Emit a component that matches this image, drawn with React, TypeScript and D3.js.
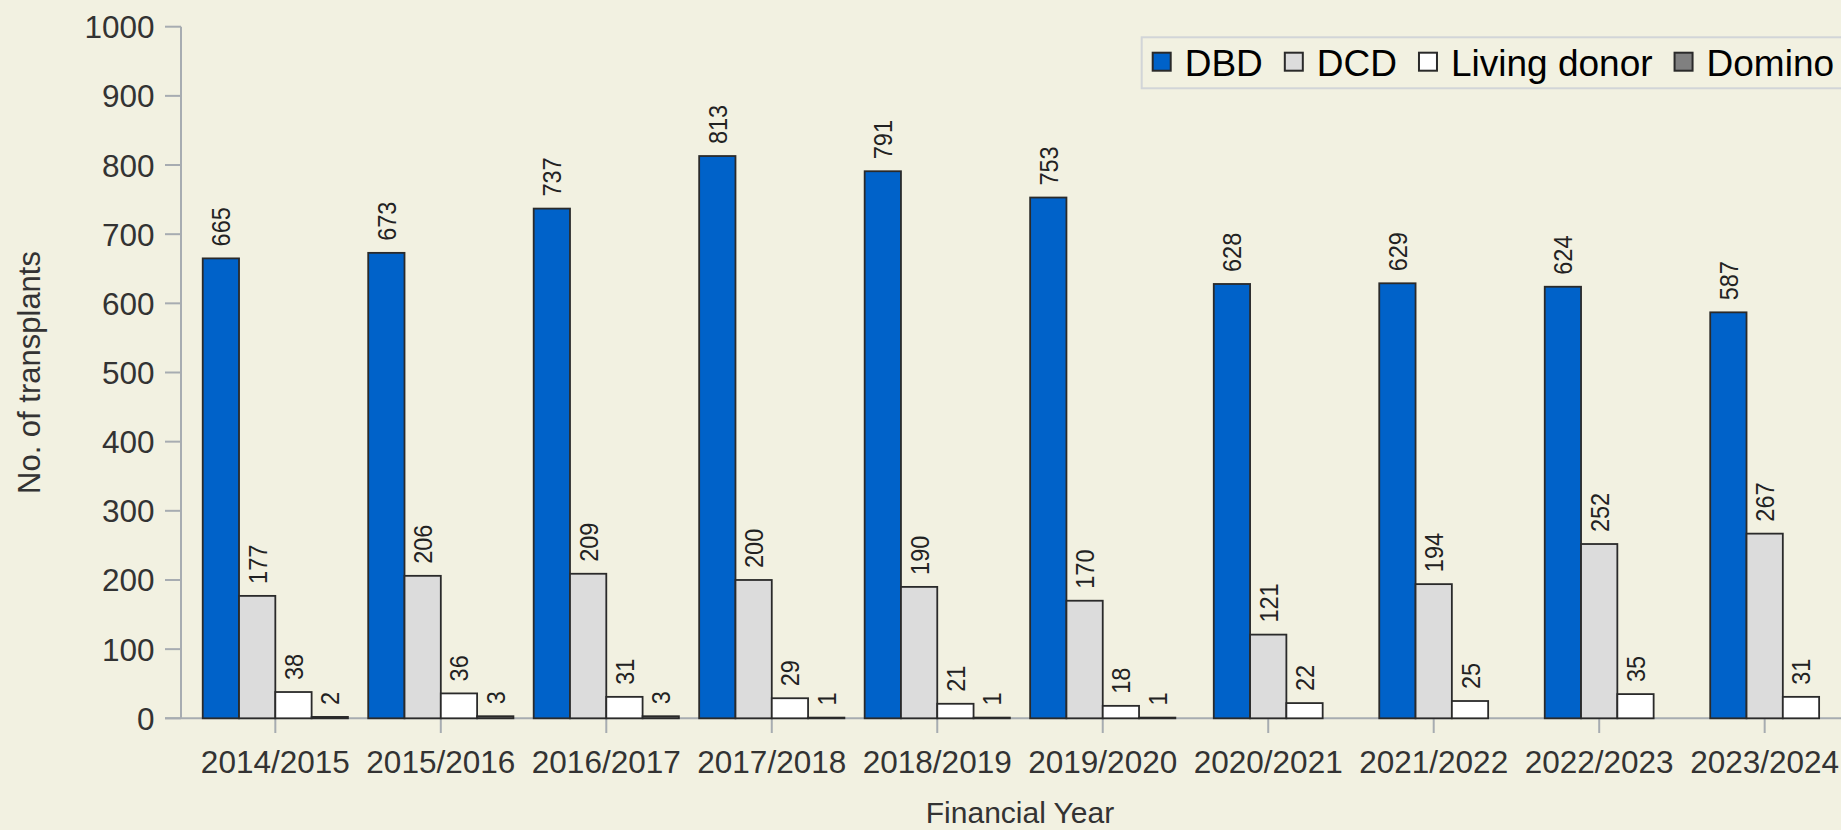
import React from 'react';
import * as d3 from 'd3';

const years = ['2014/2015', '2015/2016', '2016/2017', '2017/2018', '2018/2019', '2019/2020', '2020/2021', '2021/2022', '2022/2023', '2023/2024'];
const dbd = [665, 673, 737, 813, 791, 753, 628, 629, 624, 587];
const dcd = [177, 206, 209, 200, 190, 170, 121, 194, 252, 267];
const living = [38, 36, 31, 29, 21, 18, 22, 25, 35, 31];
const domino: (number | null)[] = [2, 3, 3, 1, 1, 1, null, null, null, null];
const seriesNames = ['DBD', 'DCD', 'Living donor', 'Domino'];
const seriesColors = ['#0062C9', '#DCDCDC', '#FFFFFF', '#808080'];
const yTicks = [0, 100, 200, 300, 400, 500, 600, 700, 800, 900, 1000];
const yTitle = 'No. of transplants';
const xTitle = 'Financial Year';

const W = 1841;
const H = 830;
const FONT = '"Liberation Sans", Arial, sans-serif';
const BG = '#F2F1E1';
const AXIS = '#A7ACB1';

function measure(text: string, size: number): number {
  const c = document.createElement('canvas');
  const ctx = c.getContext('2d');
  if (!ctx) return text.length * size * 0.55;
  ctx.font = `${size}px ${FONT}`;
  return ctx.measureText(text).width;
}

export default function App() {
  const series = [dbd, dcd, living, domino];
  const x = d3.scaleBand<string>().domain(years).range([181, 1859]).paddingInner(0).paddingOuter(0.07);
  const y = d3.scaleLinear().domain([0, 1000]).range([718.3, 26.7]);
  const barW = 36.3;
  const labelSize = 23.5;
  const labelStretch = 1.13;
  const capHalf = (labelSize * 0.716 * labelStretch) / 2;

  const bars: React.ReactNode[] = [];
  const labels: React.ReactNode[] = [];
  years.forEach((yr, j) => {
    const center = (x(yr) as number) + x.bandwidth() / 2;
    const present = series.map((s, i) => (s[j] == null ? -1 : i)).filter((i) => i >= 0);
    const inner = d3
      .scaleBand<number>()
      .domain(present)
      .range([center - (present.length * barW) / 2, center + (present.length * barW) / 2]);
    present.forEach((i) => {
      const v = series[i][j] as number;
      const bx = inner(i) as number;
      const top = y(v);
      bars.push(
        <rect
          key={`b${i}-${j}`}
          x={bx}
          y={top}
          width={inner.bandwidth()}
          height={y(0) - top}
          fill={seriesColors[i]}
          stroke="#2a2a2a"
          strokeWidth={1.8}
        />
      );
      const cx = bx + inner.bandwidth() / 2;
      labels.push(
        <text
          key={`l${i}-${j}`}
          transform={`translate(${cx + capHalf},${top - 12}) rotate(-90) scale(1,${labelStretch})`}
          fontSize={labelSize}
          fontFamily={FONT}
          fill="#222"
          textAnchor="start"
        >
          {v}
        </text>
      );
    });
  });

  // legend layout
  const legendSize = 37;
  let lx = 1152.7;
  const legendItems = seriesNames.map((name, i) => {
    const sx = lx;
    const tx = sx + 18 + 14;
    const tw = measure(name, legendSize);
    lx = tx + tw + 22;
    return (
      <g key={`lg${i}`}>
        <rect x={sx} y={52.7} width={18} height={18} fill={seriesColors[i]} stroke="#2a2a2a" strokeWidth={2} />
        <text x={tx} y={76} fontSize={legendSize} fontFamily={FONT} fill="#000">
          {name}
        </text>
      </g>
    );
  });

  return (
    <svg
      width={W}
      height={H}
      style={{ position: 'absolute', left: 0, top: 0, display: 'block', background: BG }}
    >
      <rect x={0} y={0} width={W} height={H} fill={BG} />
      {/* y axis */}
      <line x1={181} x2={181} y1={y(1000)} y2={y(0)} stroke={AXIS} strokeWidth={2} />
      {yTicks.map((t) => (
        <g key={`yt${t}`}>
          <line x1={165} x2={181} y1={y(t)} y2={y(t)} stroke={AXIS} strokeWidth={2} />
          <text
            x={154.5}
            y={y(t) + 11.5}
            textAnchor="end"
            fontSize={31.5}
            fontFamily={FONT}
            fill="#333"
          >
            {t}
          </text>
        </g>
      ))}
      {/* x axis */}
      <line x1={165} x2={W + 40} y1={y(0)} y2={y(0)} stroke={AXIS} strokeWidth={2} />
      {years.map((yr) => {
        const c = (x(yr) as number) + x.bandwidth() / 2;
        return (
          <g key={`xt${yr}`}>
            <line x1={c} x2={c} y1={y(0)} y2={733} stroke={AXIS} strokeWidth={2} />
            <text x={c} y={773} textAnchor="middle" fontSize={31.5} fontFamily={FONT} fill="#333">
              {yr}
            </text>
          </g>
        );
      })}
      {bars}
      {labels}
      {/* titles */}
      <text
        transform={`translate(40,${(y(0) + y(1000)) / 2}) rotate(-90)`}
        textAnchor="middle"
        fontSize={31}
        fontFamily={FONT}
        fill="#333"
      >
        {yTitle}
      </text>
      <text x={1020} y={823} textAnchor="middle" fontSize={30} fontFamily={FONT} fill="#333">
        {xTitle}
      </text>
      {/* legend */}
      <rect x={1141.7} y={37.3} width={800} height={51} fill="none" stroke="#D2D5D8" strokeWidth={2} />
      {legendItems}
    </svg>
  );
}
